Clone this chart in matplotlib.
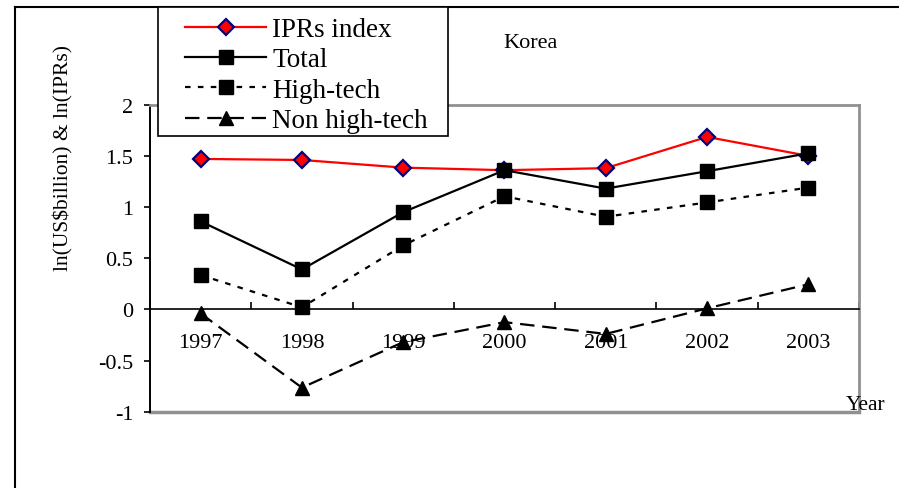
import numpy as np
import matplotlib.pyplot as plt
from matplotlib.lines import Line2D
from matplotlib.patches import Rectangle

plt.rcParams['font.family'] = ['Liberation Serif', 'DejaVu Serif']
plt.rcParams['axes.unicode_minus'] = False

# Data
years = ['1997', '1998', '1999', '2000', '2001', '2002', '2003']
ipr_index = [1.47, 1.46, 1.385, 1.36, 1.38, 1.685, 1.50]
total = [0.86, 0.39, 0.95, 1.36, 1.18, 1.35, 1.525]
high_tech = [0.335, 0.02, 0.625, 1.105, 0.905, 1.045, 1.19]
non_high_tech = [-0.04, -0.765, -0.32, -0.125, -0.24, 0.01, 0.245]
y_ticks = [-1, -0.5, 0, 0.5, 1, 1.5, 2]

W, H = 899, 489
fig = plt.figure(figsize=(W / 100, H / 100), dpi=100)
ax = fig.add_axes([150 / W, 1 - 412.7 / H, 709 / W, 307 / H])

x = np.arange(len(years))
ax.plot(x, ipr_index, color='red', lw=1.6, marker='D', ms=8,
        mfc='red', mec='#000080', mew=1.6, label='IPRs index', zorder=3)
ax.plot(x, total, color='black', lw=1.6, marker='s', ms=9.5,
        label='Total', zorder=4)
ax.plot(x, high_tech, color='black', lw=1.6, marker='s', ms=9.5,
        dashes=(2.5, 3.3), label='High-tech', zorder=4)
ax.plot(x, non_high_tech, color='black', lw=1.6, marker='^', ms=9.5,
        dashes=(6.5, 3.5), label='Non high-tech', zorder=4)

ax.set_xlim(-0.5, len(years) - 0.5)
ax.set_ylim(-1, 2)

# y axis
ax.set_yticks(y_ticks)
ax.set_yticklabels([f'{v:g}' for v in y_ticks])
ax.tick_params(axis='y', direction='out', length=4, width=1.2,
               labelsize=16, pad=8)

# category x axis crossing at 0
ax.spines['bottom'].set_position(('data', 0))
ax.spines['bottom'].set_linewidth(1.2)
ax.set_xticks(x)
ax.set_xticklabels(years)
ax.set_xticks(np.arange(len(years) + 1) - 0.5, minor=True)
ax.tick_params(axis='x', which='major', length=0, labelsize=16, pad=17)
ax.tick_params(axis='x', which='minor', direction='in', length=5, width=1.2)

ax.spines['left'].set_linewidth(1.4)
for s in ['top', 'right']:
    ax.spines[s].set_color('#909090')
    ax.spines[s].set_linewidth(2)
ax.plot([0, 1], [0, 0], transform=ax.transAxes, color='#909090', lw=2.5,
        clip_on=False, zorder=1)

# outer chart border (cropped: only left and top visible)
fig.add_artist(Line2D([15 / W, 15 / W], [0, 1 - 8 / H], color='black', lw=1.5))
fig.add_artist(Line2D([15 / W, 1], [1 - 8 / H, 1 - 8 / H], color='black', lw=1.5))

fig.text(63 / W, 1 - 158 / H, 'ln(US$billion) & ln(IPRs)', rotation=90,
         ha='center', va='center', fontsize=15.5)
fig.text(531 / W, 1 - 44 / H, 'Korea', ha='center', va='center', fontsize=16)
fig.text(866 / W, 1 - 406 / H, 'Year', ha='center', va='center', fontsize=15.5)

# legend box drawn separately so the padding can differ per side
fig.add_artist(Rectangle((158 / W, 1 - 137 / H), 290 / W, 129 / H,
                         transform=fig.transFigure, facecolor='white',
                         edgecolor='black', lw=1.2, zorder=5))
leg = fig.legend(loc='upper left', bbox_to_anchor=(185 / W, 1 - 18 / H),
                 fontsize=19.5, frameon=False, handlelength=3.0,
                 handletextpad=0.22, labelspacing=0.2, borderpad=0,
                 borderaxespad=0)
leg.set_zorder(6)

fig.savefig('out.png', dpi=100)
